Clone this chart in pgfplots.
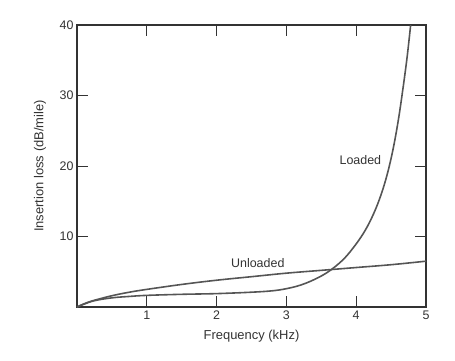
\documentclass[border=0pt]{standalone}
\usepackage{fontspec}
\setmainfont{Liberation Sans}
\usepackage{pgfplots}
\pgfplotsset{compat=1.18}
\definecolor{curve}{HTML}{555555}
\definecolor{frame}{HTML}{333333}
\begin{document}
\begin{tikzpicture}
\begin{axis}[
  scale only axis,
  width=349bp, height=282bp,
  xmin=0, xmax=5, ymin=0, ymax=40,
  xtick={1,2,3,4,5}, ytick={10,20,30,40},
  tick align=inside,
  major tick length=11bp,
  axis line style={frame, line width=1.1pt},
  tick style={frame, line width=0.9pt},
  /pgf/number format/assume math mode=true,
  tick label style={font=\fontsize{12.5}{14}\selectfont, text=frame},
  xlabel={Frequency (kHz)},
  ylabel={Insertion loss (dB/mile)},
  every axis x label/.style={at={(axis description cs:0.5,-0.103)}, anchor=center, font=\fontsize{13}{15}\selectfont, text=frame},
  every axis y label/.style={at={(axis description cs:-0.106,0.5)}, anchor=center, rotate=90, font=\fontsize{13}{15}\selectfont, text=frame},
  clip=false,
]
\addplot[curve, line width=1.6pt, smooth, tension=0.6] coordinates {
  (0,0) (0.1,0.45) (0.23,0.9) (0.5,1.6) (0.75,2.1) (1,2.5) (1.5,3.2) (2,3.8)
  (2.5,4.3) (3,4.8) (3.5,5.2) (4,5.6) (4.5,6.0) (5,6.5)
};
\addplot[curve, line width=1.6pt, smooth, tension=0.6] coordinates {
  (0,0) (0.1,0.4) (0.25,0.9) (0.5,1.3) (0.75,1.5) (1,1.65) (1.5,1.8) (2,1.9)
  (2.5,2.1) (2.8,2.3) (3,2.6) (3.2,3.1) (3.4,3.9) (3.6,5.0) (3.8,6.6) (3.95,8.3)
  (4.1,10.4) (4.22,12.6) (4.33,15.2) (4.43,18.3) (4.52,22) (4.6,26.3) (4.67,31) (4.73,35.5) (4.78,40)
};
\node[font=\fontsize{12.5}{14}\selectfont, text=frame] at (axis cs:2.59,6.3) {Unloaded};
\node[font=\fontsize{12.5}{14}\selectfont, text=frame] at (axis cs:4.06,20.9) {Loaded};
\end{axis}
\path (current axis.south west) ++(-77bp,-53bp) coordinate (bl);
\path (current axis.north east) ++(29bp,25bp) coordinate (tr);
\path (bl) rectangle (tr);
\end{tikzpicture}
\end{document}
